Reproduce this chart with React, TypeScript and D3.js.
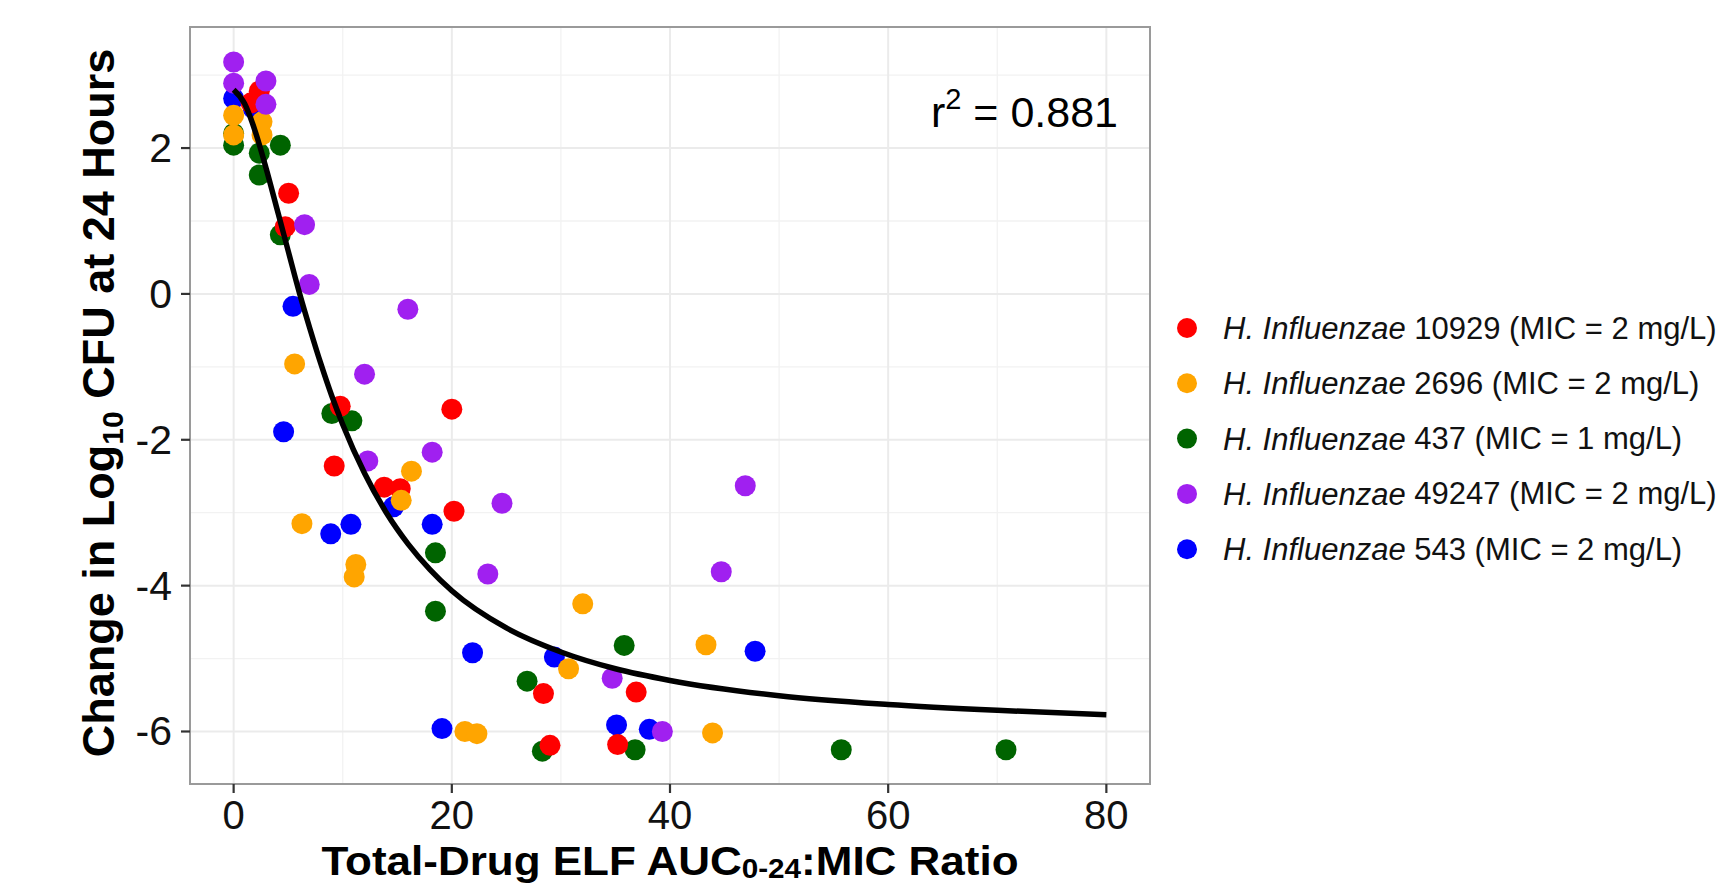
import React from "react";
import * as d3 from "d3";

// ---- data ----
const strainIds = ["10929", "2696", "437", "49247", "543"];
const strainMics = ["2", "2", "1", "2", "2"];
const strainColors = ["#FF0000", "#FFA500", "#006400", "#A020F0", "#0000FF"];

const pts10929: [number, number][] = [
  [2.35, 2.78], [1.6, 2.62], [5.04, 1.38], [4.73, 0.92], [9.77, -1.54], [20.0, -1.58],
  [9.22, -2.36], [13.8, -2.65], [15.27, -2.67], [20.2, -2.98], [28.4, -5.48],
  [36.9, -5.46], [29.0, -6.19], [35.2, -6.18],
];
const pts2696: [number, number][] = [
  [0, 2.45], [2.6, 2.36], [2.6, 2.18], [0, 2.18], [5.59, -0.96], [16.3, -2.43],
  [15.36, -2.83], [6.26, -3.15], [11.2, -3.71], [11.05, -3.88], [32.0, -4.25],
  [30.7, -5.14], [21.2, -6.0], [22.3, -6.03], [43.3, -4.81], [43.9, -6.02],
];
const pts437: [number, number][] = [
  [0, 2.2], [0, 2.04], [4.28, 2.04], [2.35, 1.93], [2.35, 1.63], [4.28, 0.81],
  [9.0, -1.64], [10.84, -1.74], [18.5, -3.55], [18.5, -4.35], [35.8, -4.82],
  [26.9, -5.31], [28.3, -6.27], [36.8, -6.25], [55.7, -6.25], [70.8, -6.25],
];
const pts49247: [number, number][] = [
  [0, 3.18], [0, 2.89], [2.96, 2.92], [2.96, 2.6], [6.5, 0.95], [6.93, 0.13],
  [15.97, -0.21], [12.0, -1.1], [12.3, -2.29], [18.2, -2.17], [24.6, -2.87],
  [23.3, -3.84], [34.7, -5.27], [39.3, -6.0], [46.9, -2.63], [44.7, -3.81],
];
const pts543: [number, number][] = [
  [0, 2.68], [1.8, 2.54], [5.44, -0.17], [4.58, -1.89], [14.65, -2.92], [8.9, -3.29],
  [10.75, -3.16], [18.2, -3.16], [21.9, -4.92], [29.4, -4.98], [19.1, -5.96],
  [35.1, -5.91], [38.1, -5.97], [47.8, -4.9],
];

const curveX = [0, 1, 2, 3, 4, 5, 6, 7, 8, 9, 10, 12, 14, 16, 18, 20, 25, 30, 35, 40, 50, 60, 70, 80];
const curveY = [2.8, 2.61, 2.22, 1.71, 1.15, 0.59, 0.03, -0.48, -0.96, -1.4, -1.79, -2.46, -3.0, -3.43,
  -3.78, -4.07, -4.58, -4.91, -5.14, -5.3, -5.51, -5.63, -5.71, -5.77];

const xTicks = [0, 20, 40, 60, 80];
const xMinor = [10, 30, 50, 70];
const yTicks = [-6, -4, -2, 0, 2];
const yMinor = [-5, -3, -1, 1, 3];
const r2Text = "0.881";

const FONT = "'Liberation Sans', Arial, Helvetica, sans-serif";

export default function App() {
  const W = 1722, H = 884;
  const L = 190, R = 1150, T = 27, B = 784;
  const x = d3.scaleLinear().domain([-4, 84]).range([L, R]);
  const y = d3.scaleLinear().domain([-6.72, 3.66]).range([B, T]);

  const line = d3.line<number>()
    .x((_, i) => x(curveX[i]))
    .y((d) => y(d))
    .curve(d3.curveMonotoneX);

  const seriesByIndex = [pts10929, pts2696, pts437, pts49247, pts543];
  const drawOrder = [2, 4, 0, 1, 3];

  return (
    <svg width={W} height={H} style={{ position: "absolute", left: 0, top: 0, background: "#fff" }}
      fontFamily={FONT}>
      <rect x={0} y={0} width={W} height={H} fill="#fff" />
      {/* minor grid */}
      {xMinor.map((v) => (
        <line key={"xm" + v} x1={x(v)} x2={x(v)} y1={T} y2={B} stroke="#F2F2F2" strokeWidth={1.3} />
      ))}
      {yMinor.map((v) => (
        <line key={"ym" + v} x1={L} x2={R} y1={y(v)} y2={y(v)} stroke="#F2F2F2" strokeWidth={1.3} />
      ))}
      {/* major grid */}
      {xTicks.map((v) => (
        <line key={"xg" + v} x1={x(v)} x2={x(v)} y1={T} y2={B} stroke="#EBEBEB" strokeWidth={2} />
      ))}
      {yTicks.map((v) => (
        <line key={"yg" + v} x1={L} x2={R} y1={y(v)} y2={y(v)} stroke="#EBEBEB" strokeWidth={2} />
      ))}

      {/* points */}
      {drawOrder.map((si) =>
        seriesByIndex[si].map((p, j) => (
          <circle key={si + "-" + j} cx={x(p[0])} cy={y(p[1])} r={10.5} fill={strainColors[si]} />
        ))
      )}

      {/* fitted curve */}
      <path d={line(curveY) || ""} fill="none" stroke="#000" strokeWidth={5.5} strokeLinecap="butt" />

      {/* panel border */}
      <rect x={L} y={T} width={R - L} height={B - T} fill="none" stroke="#9A9A9A" strokeWidth={2} />

      {/* x axis ticks & labels */}
      {xTicks.map((v) => (
        <g key={"xt" + v}>
          <line x1={x(v)} x2={x(v)} y1={B} y2={B + 9} stroke="#333" strokeWidth={2.2} />
          <text x={x(v)} y={829} textAnchor="middle" fontSize={40} fill="#111">{v}</text>
        </g>
      ))}
      {/* y axis ticks & labels */}
      {yTicks.map((v) => (
        <g key={"yt" + v}>
          <line x1={L - 9} x2={L} y1={y(v)} y2={y(v)} stroke="#333" strokeWidth={2.2} />
          <text x={172} y={y(v)} textAnchor="end" dominantBaseline="central" fontSize={41} fill="#111">
            {v < 0 ? "-" + Math.abs(v) : String(v)}
          </text>
        </g>
      ))}

      {/* x title */}
      <g transform={`translate(${(L + R) / 2}, 875) scale(1.1, 1)`}>
        <text x={0} y={0} textAnchor="middle" fontSize={40} fontWeight="bold" fill="#000">
          Total-Drug ELF AUC
          <tspan fontSize={27} dy={3}>0-24</tspan>
          <tspan dy={-3}>:MIC Ratio</tspan>
        </text>
      </g>

      {/* y title */}
      <text transform={`translate(114, 403) rotate(-90)`} textAnchor="middle" fontSize={45}
        fontWeight="bold" fill="#000">
        Change in Log
        <tspan fontSize={30} dy={9}>10</tspan>
        <tspan dy={-9}> CFU at 24 Hours</tspan>
      </text>

      {/* r2 annotation */}
      <text x={1118} y={127} textAnchor="end" fontSize={43} fill="#000">
        r<tspan fontSize={29} dy={-18}>2</tspan>
        <tspan dy={18}> = {r2Text}</tspan>
      </text>

      {/* legend */}
      {strainIds.map((id, i) => {
        const cy = 328 + i * 55.3;
        return (
          <g key={"lg" + id}>
            <circle cx={1187} cy={cy} r={10} fill={strainColors[i]} />
            <text x={1223} y={cy} dominantBaseline="central" fontSize={31} fill="#111">
              <tspan fontStyle="italic">H. Influenzae</tspan>
              {" " + id + " (MIC = " + strainMics[i] + " mg/L)"}
            </text>
          </g>
        );
      })}
    </svg>
  );
}
